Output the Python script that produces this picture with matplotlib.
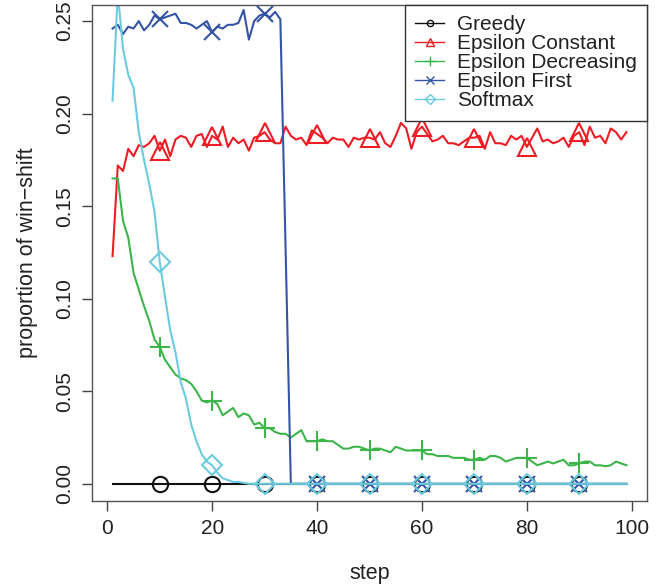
import matplotlib
matplotlib.use('Agg')
import matplotlib.pyplot as plt
from matplotlib.lines import Line2D

plt.rcParams['font.family'] = ['Liberation Sans', 'DejaVu Sans']

steps = list(range(1, 100))

greedy = [0.0] * 99

eps_constant = [
    0.123, 0.172, 0.169, 0.181, 0.177, 0.183, 0.182, 0.184, 0.188, 0.180,
    0.186, 0.177, 0.186, 0.188, 0.187, 0.182, 0.188, 0.189, 0.182, 0.188,
    0.186, 0.193, 0.182, 0.187, 0.184, 0.186, 0.180, 0.187, 0.188, 0.190,
    0.186, 0.184, 0.184, 0.193, 0.188, 0.186, 0.187, 0.183, 0.191, 0.189,
    0.187, 0.184, 0.187, 0.186, 0.186, 0.182, 0.187, 0.186, 0.187, 0.187,
    0.186, 0.190, 0.184, 0.182, 0.188, 0.195, 0.192, 0.181, 0.190, 0.193,
    0.189, 0.185, 0.186, 0.188, 0.184, 0.184, 0.183, 0.185, 0.187, 0.187,
    0.188, 0.181, 0.190, 0.184, 0.184, 0.183, 0.188, 0.186, 0.188, 0.182,
    0.187, 0.192, 0.185, 0.186, 0.184, 0.185, 0.187, 0.182, 0.188, 0.190,
    0.183, 0.193, 0.187, 0.188, 0.184, 0.192, 0.190, 0.186, 0.190,
]

eps_decreasing = [
    0.165, 0.165, 0.142, 0.133, 0.114, 0.105, 0.096, 0.088, 0.078, 0.074,
    0.067, 0.063, 0.059, 0.057, 0.056, 0.054, 0.050, 0.045, 0.044, 0.045,
    0.043, 0.037, 0.039, 0.041, 0.036, 0.038, 0.037, 0.032, 0.033, 0.030,
    0.030, 0.028, 0.027, 0.027, 0.025, 0.027, 0.029, 0.023, 0.023, 0.023,
    0.024, 0.023, 0.023, 0.021, 0.019, 0.019, 0.020, 0.020, 0.019, 0.018,
    0.019, 0.019, 0.018, 0.017, 0.020, 0.019, 0.018, 0.018, 0.018, 0.018,
    0.016, 0.016, 0.015, 0.015, 0.015, 0.014, 0.014, 0.014, 0.013, 0.013,
    0.014, 0.013, 0.015, 0.015, 0.014, 0.012, 0.013, 0.014, 0.014, 0.014,
    0.012, 0.010, 0.011, 0.012, 0.011, 0.012, 0.013, 0.010, 0.010, 0.011,
    0.012, 0.012, 0.010, 0.010, 0.0095, 0.010, 0.012, 0.011, 0.010,
]

eps_first = [
    0.246, 0.248, 0.243, 0.247, 0.246, 0.250, 0.245, 0.248, 0.253, 0.251,
    0.252, 0.253, 0.254, 0.249, 0.249, 0.248, 0.246, 0.248, 0.250, 0.244,
    0.247, 0.246, 0.248, 0.248, 0.249, 0.256, 0.240, 0.250, 0.253, 0.254,
    0.252, 0.255, 0.251, 0.127,
] + [0.0] * 65

softmax = [
    0.207, 0.265, 0.235, 0.221, 0.214, 0.190, 0.175, 0.162, 0.147, 0.120,
    0.101, 0.083, 0.071, 0.055, 0.046, 0.032, 0.023, 0.016, 0.012, 0.010,
    0.006, 0.003, 0.002, 0.001, 0.001, 0.0005,
] + [0.0] * 73

labels = ['Greedy', 'Epsilon Constant', 'Epsilon Decreasing', 'Epsilon First', 'Softmax']
colors = ['#111111', '#EE1C25', '#3DB54A', '#3454A6', '#6CCBDF']
markers = ['o', '^', '+', 'x', 'D']
big_sizes = [11, 13, 15, 12, 10.5]
small_sizes = [4.5, 6, 7, 5.5, 5]
series = [greedy, eps_constant, eps_decreasing, eps_first, softmax]

fig = plt.figure(figsize=(6.67, 5.86), dpi=100)
ax = fig.add_axes([92 / 667, 85 / 586, 555 / 667, 496 / 586])

for data, c, m, ms in zip(series, colors, markers, big_sizes):
    ax.plot(steps, data, color=c, lw=1.5, marker=m, markersize=ms,
            markerfacecolor='none', markeredgecolor=c, markeredgewidth=1.5,
            markevery=slice(9, 99, 10))

ax.set_xlim(-2.92, 102.92)
ax.set_ylim(-0.0093, 0.2587)
ax.set_xticks([0, 20, 40, 60, 80, 100])
ax.set_yticks([0.00, 0.05, 0.10, 0.15, 0.20, 0.25])
ax.set_yticklabels(['0.00', '0.05', '0.10', '0.15', '0.20', '0.25'],
                   rotation=90, va='center')
ax.tick_params(direction='out', length=7, width=1, colors='#444444',
               labelcolor='#222222', labelsize=15, pad=6)
for sp in ax.spines.values():
    sp.set_color('#555555')
    sp.set_linewidth(1)

ax.set_xlabel('step', fontsize=15.5, color='#222222', labelpad=18)
ax.set_ylabel('proportion of win\u2212shift', fontsize=15.5, color='#222222', labelpad=12)

handles = [Line2D([], [], color=c, lw=1, marker=m, markersize=s,
                  markerfacecolor='none', markeredgecolor=c, markeredgewidth=1)
           for c, m, s in zip(colors, markers, small_sizes)]
leg = ax.legend(handles, labels, loc='upper right', fontsize=15,
                frameon=True, fancybox=False, borderaxespad=0,
                handlelength=1.4, handletextpad=0.6, labelspacing=0.0,
                borderpad=0.5)
leg.get_frame().set_edgecolor('#333333')
leg.get_frame().set_linewidth(1)
leg.get_frame().set_alpha(1)
for t in leg.get_texts():
    t.set_color('#222222')

fig.savefig('out.png', dpi=100)
